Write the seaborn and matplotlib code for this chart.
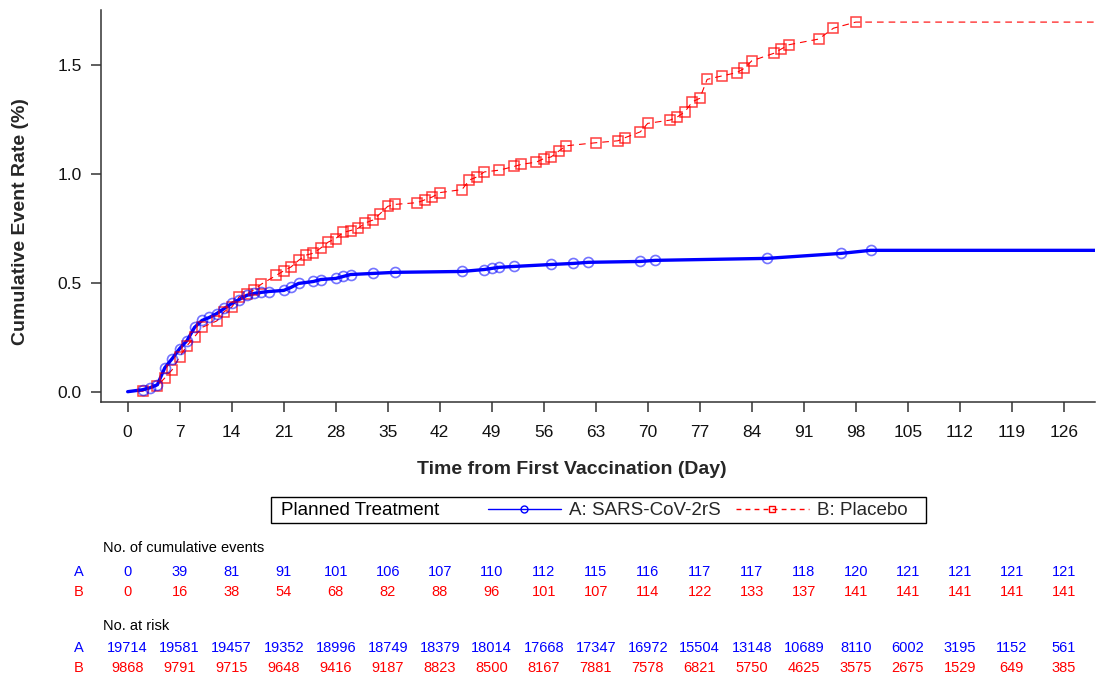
import numpy as np
import pandas as pd
import matplotlib
matplotlib.use("Agg")
import matplotlib.pyplot as plt
import matplotlib.transforms as mtransforms
from matplotlib.lines import Line2D
from matplotlib.patches import Rectangle
import seaborn as sns

# ---------------- data ----------------
days_a = [2, 3, 4, 5, 6, 7, 8, 9, 10, 11, 12, 13, 14, 15, 16, 17, 18, 19,
          21, 22, 23, 25, 26, 28, 29, 30, 33, 36, 45, 48, 49, 50, 52, 57,
          60, 62, 69, 71, 86, 96, 100]
rate_a = [0.009, 0.018, 0.032, 0.110, 0.152, 0.198, 0.235, 0.295, 0.327, 0.341,
          0.359, 0.382, 0.405, 0.423, 0.442, 0.451, 0.456, 0.460,
          0.465, 0.479, 0.497, 0.506, 0.515, 0.520, 0.529, 0.538, 0.543, 0.548,
          0.552, 0.561, 0.566, 0.571, 0.575, 0.584, 0.589, 0.594, 0.598, 0.603,
          0.612, 0.635, 0.649]

days_b = [2, 4, 5, 6, 7, 8, 9, 10, 12, 13, 14, 15, 16, 17, 18, 20, 21, 22, 23, 24,
          25, 26, 27, 28, 29, 30, 31, 32, 33, 34, 35, 36, 39, 40, 41, 42, 45, 46,
          47, 48, 50, 52, 53, 55, 56, 57, 58, 59, 63, 66, 67, 69, 70, 73, 74, 75,
          76, 77, 78, 80, 82, 83, 84, 87, 88, 89, 93, 95, 98]
rate_b = [0.002, 0.028, 0.063, 0.101, 0.161, 0.212, 0.252, 0.295, 0.325, 0.368,
          0.388, 0.436, 0.448, 0.468, 0.494, 0.534, 0.555, 0.573, 0.603, 0.627,
          0.636, 0.660, 0.687, 0.703, 0.731, 0.740, 0.750, 0.775, 0.788, 0.818,
          0.851, 0.860, 0.868, 0.881, 0.894, 0.914, 0.928, 0.972, 0.986, 1.009,
          1.017, 1.034, 1.044, 1.054, 1.070, 1.078, 1.104, 1.129, 1.143, 1.152,
          1.167, 1.193, 1.232, 1.247, 1.262, 1.285, 1.331, 1.347, 1.434, 1.450,
          1.465, 1.485, 1.519, 1.554, 1.574, 1.593, 1.619, 1.669, 1.697]

tick_days = [0, 7, 14, 21, 28, 35, 42, 49, 56, 63, 70, 77, 84, 91, 98, 105, 112, 119, 126]
events_a = [0, 39, 81, 91, 101, 106, 107, 110, 112, 115, 116, 117, 117, 118, 120, 121, 121, 121, 121]
events_b = [0, 16, 38, 54, 68, 82, 88, 96, 101, 107, 114, 122, 133, 137, 141, 141, 141, 141, 141]
risk_a = [19714, 19581, 19457, 19352, 18996, 18749, 18379, 18014, 17668, 17347,
          16972, 15504, 13148, 10689, 8110, 6002, 3195, 1152, 561]
risk_b = [9868, 9791, 9715, 9648, 9416, 9187, 8823, 8500, 8167, 7881,
          7578, 6821, 5750, 4625, 3575, 2675, 1529, 649, 385]

label_a = "A: SARS-CoV-2rS"
label_b = "B: Placebo"
yticks = [0.0, 0.5, 1.0, 1.5]

# ---------------- style ----------------
sns.set_style("ticks")
plt.rcParams["font.family"] = ["Liberation Sans", "DejaVu Sans"]

W, H = 1103, 676
fig = plt.figure(figsize=(W / 100, H / 100), dpi=100)
ax_l, ax_r, ax_t, ax_b = 100.7, 1095, 10, 402.3
ax = fig.add_axes([ax_l / W, 1 - ax_b / H, (ax_r - ax_l) / W, (ax_b - ax_t) / H])

XMIN, XMAX = -3.63, 130.2
YMIN, YMAX = -0.0487, 1.7525

BLUE = "#0000ff"
RED = "#ff0000"

# lines start at origin and extend flat to the right edge
line_a = pd.DataFrame({"day": [0] + days_a + [XMAX], "rate": [0.0] + rate_a + [rate_a[-1]]})
line_b = pd.DataFrame({"day": [0] + days_b + [XMAX], "rate": [0.0] + rate_b + [rate_b[-1]]})
mark_a = pd.DataFrame({"day": days_a, "rate": rate_a})
mark_b = pd.DataFrame({"day": days_b, "rate": rate_b})

sns.lineplot(data=line_b, x="day", y="rate", ax=ax, color=RED, lw=0.8,
             linestyle=(0, (6.0, 4.5)), sort=False, estimator=None, zorder=2)
sns.lineplot(data=line_a, x="day", y="rate", ax=ax, color=BLUE, lw=2.4,
             sort=False, estimator=None, zorder=3)
sns.lineplot(data=mark_b, x="day", y="rate", ax=ax, linestyle="", marker="s",
             ms=6.5, mfc="none", mec=RED, mew=1.1, alpha=0.75, estimator=None,
             sort=False, zorder=4)
sns.lineplot(data=mark_a, x="day", y="rate", ax=ax, linestyle="", marker="o",
             ms=7.2, mfc="none", mec=BLUE, mew=1.2, alpha=0.55, estimator=None,
             sort=False, zorder=5)

ax.set_xlim(XMIN, XMAX)
ax.set_ylim(YMIN, YMAX)
ax.set_xticks(tick_days)
ax.set_xticklabels([str(d) for d in tick_days])
ax.set_yticks(yticks)
ax.set_yticklabels([f"{v:.1f}" for v in yticks])
for s in ["top", "right"]:
    ax.spines[s].set_visible(False)
for s in ["left", "bottom"]:
    ax.spines[s].set_color("#333333")
    ax.spines[s].set_linewidth(1.1)
ax.tick_params(axis="both", direction="out", length=7, width=1.1, color="#333333",
               labelsize=12.5, labelcolor="#111111")
ax.tick_params(axis="x", pad=9.5)
ax.tick_params(axis="y", pad=6.5)

ax.set_xlabel("Time from First Vaccination (Day)", fontsize=14, fontweight="bold")
ax.set_ylabel("Cumulative Event Rate (%)", fontsize=14, fontweight="bold")
ax.xaxis.set_label_coords(0.474, -0.149)
ax.xaxis.label.set_va("top")
ax.yaxis.set_label_coords(-0.072, 0.46)

# ---------------- legend box ----------------
bx0, bx1, by0, by1 = 270.9, 926, 497.3, 522.7
fig.patches.append(Rectangle((bx0 / W, 1 - by1 / H), (bx1 - bx0) / W, (by1 - by0) / H,
                             transform=fig.transFigure, fill=False, ec="black",
                             lw=1.0, zorder=1))
fig.text(281 / W, 1 - 510.5 / H, "Planned Treatment", ha="left", va="center",
         fontsize=13.5, color="black")
handles = [
    Line2D([], [], color=BLUE, lw=1.0, marker="o", ms=5, mfc="none", mec=BLUE, mew=1.0),
    Line2D([], [], color=RED, lw=1.0, linestyle=(0, (3.5, 3)), marker="s", ms=5,
           mfc="none", mec=RED, mew=1.0),
]
fig.legend(handles, [label_a, label_b], ncol=2, frameon=False, fontsize=13.5,
           loc="center left", bbox_to_anchor=(487.5 / W, 1 - 510.5 / H),
           borderpad=0, borderaxespad=0, handlelength=3.9, handletextpad=0.45,
           columnspacing=0.8, numpoints=1)

# ---------------- tables ----------------
trans = mtransforms.blended_transform_factory(ax.transData, fig.transFigure)
TFS = 10.5

def fy(px):
    return 1 - px / H

fig.text(103.3 / W, fy(548), "No. of cumulative events", ha="left", va="center",
         fontsize=TFS, color="black")
fig.text(103.3 / W, fy(626), "No. at risk", ha="left", va="center",
         fontsize=TFS, color="black")

rows = [(571.7, "A", BLUE, events_a), (591.7, "B", RED, events_b),
        (648.3, "A", BLUE, risk_a), (668.3, "B", RED, risk_b)]
for ypx, lab, col, vals in rows:
    fig.text(79 / W, fy(ypx), lab, ha="center", va="center", fontsize=TFS, color=col)
    for d, v in zip(tick_days, vals):
        ax.text(d, fy(ypx), str(v), transform=trans, ha="center", va="center",
                fontsize=TFS, color=col, clip_on=False)

fig.savefig("out.png", dpi=100)
